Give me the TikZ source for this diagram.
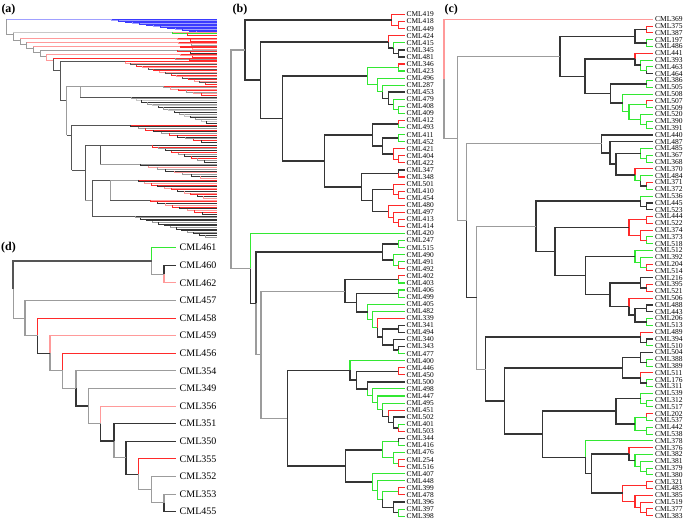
\documentclass[tikz,border=0pt]{standalone}
\usepackage{fontspec}
\setmainfont{Liberation Serif}
\usetikzlibrary{calc}
\definecolor{cblk}{HTML}{353535}
\definecolor{cgry}{HTML}{9C9C9C}
\definecolor{cgrn}{HTML}{33E833}
\definecolor{crd}{HTML}{FF2A2A}
\definecolor{clrd}{HTML}{FF9A9A}
\definecolor{cblu}{HTML}{3A3AFF}
\definecolor{clbl}{HTML}{A0A0FF}
\definecolor{clgy}{HTML}{C8C8C8}
\definecolor{cdk}{HTML}{555555}
\tikzset{
 br/.style={line width=1.1pt},
 blk/.style={draw=cblk,line width=1.5pt},
 gry/.style={br,draw=cgry},
 grn/.style={br,draw=cgrn},
 rd/.style={br,draw=crd},
 lrd/.style={br,draw=clrd},
 dthick/.style={draw=cdk,line width=1.8pt},
 bleaf/.style={anchor=west,inner xsep=1.5pt,inner ysep=0pt,font=\fontsize{7.4}{7.4}\selectfont,text=black},
 cleaf/.style={anchor=west,inner xsep=2pt,inner ysep=0pt,font=\fontsize{7.5}{7.5}\selectfont,text=black},
 dleaf/.style={anchor=west,inner xsep=3.5pt,inner ysep=0pt,font=\fontsize{10}{10}\selectfont,text=black},
 plab/.style={font=\fontsize{12}{12}\bfseries\selectfont,inner sep=0pt},
 aln/.style={line width=0.75pt},
}
\newcommand\blf[2]{\node[bleaf] (b#1) at (405,{-(14.5+(#2-1)*7.065)}) {CML#1};}
\newcommand\clf[2]{\node[cleaf] (c#1) at (653,{-(19.3+(#2-1)*6.8)}) {CML#1};}
\newcommand\dlf[2]{\node[dleaf] (d#1) at (176,{-(247.7+(#2-1)*17.6)}) {CML#1};}
\newcommand\ndx[6]{\path let \p1=(#3), \p2=(#5) in (#2,{0.5*(\y1+\y2)}) coordinate (#1);
 \draw[#4] (#1) |- (#3); \draw[#6] (#1) |- (#5);}
\def\atip{217}
\newcommand\afan[7]{%
 \draw[aln,draw=#5] (#1,-#2) -- (\atip,-#2);
 \pgfmathtruncatemacro\nm{#4-1}%
 \foreach \k in {1,...,\nm}{%
   \pgfmathsetmacro\ua{#1+(\k-1)*(\atip-#1)/#4}%
   \pgfmathsetmacro\ya{#2+(\k-1)*(#3-#2)/(#4-1)}%
   \pgfmathsetmacro\yb{#2+\k*(#3-#2)/(#4-1)}%
   \pgfmathtruncatemacro\mm{mod(\k,3)}%
   \ifcase\mm\relax\def\cc{#5}\or\def\cc{#6}\else\def\cc{#7}\fi
   \draw[aln,draw=\cc] (\ua,-\ya) |- (\atip,-\yb);
 }}
\begin{document}
\begin{tikzpicture}[x=1pt,y=1pt]
\useasboundingbox (0,0) rectangle (685,-521);
% panel labels
\node[plab] (pa) at (8.5,-10) {(a)};
\node[plab] (pb) at (240,-10) {(b)};
\node[plab] (pc) at (451.3,-10) {(c)};
\node[plab] (pd) at (8.5,-248) {(d)};
% ================= panel (a) =================
\draw[aln,draw=cgry] (6.7,-19) |- (13.3,-34);
\draw[aln,draw=clbl] (6.7,-19) -- (111.7,-19);
\afan{111.7}{19}{33}{15}{cblu}{clbl}{cblu}
\draw[aln,draw=cgry] (13.3,-32) |- (20,-40);
\draw[aln,draw=cgry] (20,-38) |- (26.7,-44.5);
\draw[aln,draw=cgry] (26.7,-42.5) |- (33.3,-48.5);
\draw[aln,draw=cgry] (33.3,-46.5) |- (40,-52.5);
\draw[aln,draw=cgry] (40,-50.5) |- (46.7,-56.5);
\draw[aln,draw=clrd] (46.7,-54.5) |- (53.3,-60.3);
\draw[aln,draw=cdk] (53.3,-58.3) |- (60,-70);
\draw[aln,draw=clgy] (13.3,-32) -- (172,-32);
\afan{172}{32}{35}{3}{clrd}{cgrn}{crd}
\draw[aln,draw=clrd] (20,-38) -- (177,-38);
\afan{177}{38}{41}{3}{crd}{clrd}{crd}
\draw[aln,draw=clrd] (26.7,-42.5) -- (178,-42.5);
\afan{178}{42.5}{45}{3}{crd}{clrd}{cgry}
\draw[aln,draw=clrd] (33.3,-46.5) -- (180,-46.5);
\afan{180}{46.5}{49}{3}{crd}{crd}{clrd}
\draw[aln,draw=cgry] (40,-50.5) -- (177,-50.5);
\afan{177}{50.5}{53}{3}{cgry}{crd}{cblk}
\draw[aln,draw=clrd] (46.7,-54.5) -- (180,-54.5);
\afan{180}{54.5}{57}{3}{crd}{clrd}{crd}
\draw[aln,draw=crd] (53.3,-58.3) -- (175,-58.3);
\afan{175}{58.3}{60.5}{3}{crd}{cgry}{crd}
% spine
\draw[aln,draw=cdk] (60,-100) |- (125,-61.7);
\draw[aln,draw=cdk] (60,-100) -- (66.7,-100);
\draw[aln,draw=cgry] (66.7,-135) |- (80,-86);
\draw[aln,draw=cdk] (66.7,-135) -- (71.7,-135);
\draw[aln,draw=cgry] (80,-97) |- (163,-86);
\draw[aln,draw=cdk] (80,-97) -- (131,-97);
\draw[aln,draw=cdk] (71.7,-170) |- (130,-125);
\draw[aln,draw=cdk] (71.7,-170) -- (85,-170);
\draw[aln,draw=cdk] (85,-200) |- (100,-145);
\draw[aln,draw=cgry] (85,-200) -- (92,-200);
\draw[aln,draw=cdk] (100,-164) |- (152,-145);
\draw[aln,draw=cgry] (100,-164) -- (140,-164);
\draw[aln,draw=cdk] (92,-216) |- (110,-180);
\draw[aln,draw=cdk] (92,-216) -- (135,-216);
\draw[aln,draw=cgry] (110,-200) |- (138,-180);
\draw[aln,draw=cdk] (110,-200) -- (150,-200);
\afan{125}{61.7}{84}{16}{crd}{clrd}{cdk}
\afan{163}{86}{95}{7}{crd}{cgry}{clrd}
\afan{131}{97}{123}{16}{cblk}{cgry}{clgy}
\afan{130}{125}{142}{11}{crd}{cblk}{cgry}
\afan{152}{145}{162}{10}{cblk}{crd}{cgry}
\afan{140}{164}{178}{9}{cgry}{cblk}{clrd}
\afan{138}{180}{198}{12}{crd}{cblk}{clrd}
\afan{150}{200}{214}{9}{clrd}{crd}{cblk}
\afan{135}{216}{237}{14}{cblk}{cgry}{cblk}
% ================= panel (b) =================
\blf{419}{1}\blf{418}{2}\blf{449}{3}\blf{424}{4}\blf{415}{5}\blf{345}{6}\blf{481}{7}\blf{346}{8}\blf{423}{9}\blf{496}{10}\blf{287}{11}\blf{453}{12}\blf{479}{13}\blf{408}{14}\blf{409}{15}\blf{412}{16}\blf{493}{17}\blf{411}{18}\blf{452}{19}\blf{421}{20}\blf{404}{21}\blf{422}{22}\blf{347}{23}\blf{348}{24}\blf{501}{25}\blf{410}{26}\blf{454}{27}\blf{480}{28}\blf{497}{29}\blf{413}{30}\blf{414}{31}\blf{420}{32}\blf{247}{33}\blf{515}{34}\blf{490}{35}\blf{491}{36}\blf{492}{37}\blf{402}{38}\blf{403}{39}\blf{406}{40}\blf{499}{41}\blf{405}{42}\blf{482}{43}\blf{339}{44}\blf{341}{45}\blf{494}{46}\blf{340}{47}\blf{343}{48}\blf{477}{49}\blf{400}{50}\blf{446}{51}\blf{450}{52}\blf{500}{53}\blf{498}{54}\blf{447}{55}\blf{495}{56}\blf{451}{57}\blf{502}{58}\blf{401}{59}\blf{503}{60}\blf{344}{61}\blf{416}{62}\blf{476}{63}\blf{254}{64}\blf{516}{65}\blf{407}{66}\blf{448}{67}\blf{399}{68}\blf{478}{69}\blf{396}{70}\blf{397}{71}\blf{398}{72}
\ndx{bn1}{398.3}{b418}{rd}{b449}{rd}
\ndx{bn2}{391.7}{b419}{rd}{bn1}{rd}
\ndx{bn3}{398.3}{b345}{blk}{b481}{blk}
\ndx{bn4}{393.3}{b415}{grn}{bn3}{blk}
\ndx{bn5}{388.3}{b424}{rd}{bn4}{blk}
\ndx{bn6}{398.3}{b346}{rd}{b423}{grn}
\ndx{bn7}{398.3}{b408}{grn}{b409}{grn}
\ndx{bn8}{393.3}{b479}{grn}{bn7}{grn}
\ndx{bn9}{388.3}{b453}{blk}{bn8}{blk}
\ndx{bn10}{382.3}{b287}{grn}{bn9}{blk}
\ndx{bn11}{377.3}{b496}{grn}{bn10}{grn}
\ndx{bn12}{367.3}{bn6}{grn}{bn11}{grn}
\ndx{bn13}{398.3}{b412}{rd}{b493}{grn}
\ndx{bn14}{398.3}{b411}{grn}{b452}{grn}
\ndx{bn15}{398.3}{b404}{rd}{b422}{rd}
\ndx{bn16}{393.3}{b421}{rd}{bn15}{rd}
\ndx{bn17}{382.3}{bn14}{blk}{bn16}{blk}
\ndx{bn18}{372.3}{bn13}{blk}{bn17}{blk}
\ndx{bn19}{398.3}{b347}{blk}{b348}{rd}
\ndx{bn20}{398.3}{b410}{rd}{b454}{rd}
\ndx{bn21}{393.3}{b501}{rd}{bn20}{rd}
\ndx{bn22}{398.3}{b413}{rd}{b414}{rd}
\ndx{bn23}{393.3}{b497}{rd}{bn22}{rd}
\ndx{bn24}{388.3}{b480}{rd}{bn23}{rd}
\ndx{bn25}{372.3}{bn21}{blk}{bn24}{blk}
\ndx{bn26}{361.7}{bn19}{blk}{bn25}{blk}
\ndx{bn27}{324.3}{bn18}{blk}{bn26}{blk}
\ndx{bn28}{282.3}{bn12}{blk}{bn27}{blk}
\ndx{bn29}{260.7}{bn5}{blk}{bn28}{blk}
\ndx{bn30}{245}{bn2}{blk}{bn29}{blk}
\ndx{bn31}{398.3}{b247}{grn}{b515}{grn}
\ndx{bn32}{398.3}{b491}{grn}{b492}{rd}
\ndx{bn33}{393.3}{b490}{grn}{bn32}{grn}
\ndx{bn34}{382.3}{bn31}{blk}{bn33}{blk}
\ndx{bn35}{398.3}{b402}{rd}{b403}{grn}
\ndx{bn36}{398.3}{b406}{grn}{b499}{grn}
\ndx{bn37}{398.3}{b341}{blk}{b494}{blk}
\ndx{bn38}{398.3}{b343}{blk}{b477}{grn}
\ndx{bn39}{393.3}{b340}{blk}{bn38}{blk}
\ndx{bn40}{382.3}{bn37}{blk}{bn39}{blk}
\ndx{bn41}{377.3}{b339}{rd}{bn40}{blk}
\ndx{bn42}{372.3}{b482}{grn}{bn41}{grn}
\ndx{bn43}{367.7}{b405}{grn}{bn42}{grn}
\ndx{bn44}{356.7}{bn36}{blk}{bn43}{blk}
\ndx{bn45}{345}{bn35}{blk}{bn44}{blk}
\ndx{bn46}{398.3}{b446}{rd}{b450}{rd}
\ndx{bn47}{398.3}{b401}{grn}{b503}{rd}
\ndx{bn48}{393.3}{b502}{blk}{bn47}{blk}
\ndx{bn49}{388.3}{b451}{rd}{bn48}{blk}
\ndx{bn50}{382.3}{b495}{grn}{bn49}{blk}
\ndx{bn51}{377.3}{b447}{grn}{bn50}{grn}
\ndx{bn52}{372.3}{b498}{grn}{bn51}{grn}
\ndx{bn53}{367.7}{b500}{blk}{bn52}{grn}
\ndx{bn54}{356.7}{bn46}{blk}{bn53}{blk}
\ndx{bn55}{350}{b400}{grn}{bn54}{blk}
\ndx{bn56}{398.3}{b344}{blk}{b416}{grn}
\ndx{bn57}{398.3}{b254}{rd}{b516}{rd}
\ndx{bn58}{393.3}{b476}{grn}{bn57}{grn}
\ndx{bn59}{382.3}{bn56}{grn}{bn58}{grn}
\ndx{bn60}{398.3}{b399}{rd}{b478}{rd}
\ndx{bn61}{398.3}{b397}{grn}{b398}{grn}
\ndx{bn62}{393.3}{b396}{blk}{bn61}{blk}
\ndx{bn63}{382.3}{bn60}{grn}{bn62}{blk}
\ndx{bn64}{377.3}{b448}{grn}{bn63}{grn}
\ndx{bn65}{372.3}{b407}{grn}{bn64}{grn}
\ndx{bn66}{345.7}{bn59}{blk}{bn65}{blk}
\ndx{bn67}{287.3}{bn55}{blk}{bn66}{blk}
\ndx{bn68}{261}{bn45}{gry}{bn67}{gry}
\ndx{bn69}{256}{bn34}{blk}{bn68}{gry}
\ndx{bn70}{250.7}{b420}{grn}{bn69}{blk}
\ndx{bn71}{231}{bn30}{gry}{bn70}{gry}
% ================= panel (c) =================
\clf{369}{1}\clf{375}{2}\clf{387}{3}\clf{197}{4}\clf{486}{5}\clf{441}{6}\clf{393}{7}\clf{463}{8}\clf{464}{9}\clf{386}{10}\clf{505}{11}\clf{508}{12}\clf{507}{13}\clf{509}{14}\clf{520}{15}\clf{390}{16}\clf{391}{17}\clf{440}{18}\clf{487}{19}\clf{485}{20}\clf{367}{21}\clf{368}{22}\clf{370}{23}\clf{484}{24}\clf{371}{25}\clf{372}{26}\clf{536}{27}\clf{445}{28}\clf{523}{29}\clf{444}{30}\clf{522}{31}\clf{374}{32}\clf{373}{33}\clf{518}{34}\clf{512}{35}\clf{392}{36}\clf{204}{37}\clf{514}{38}\clf{216}{39}\clf{395}{40}\clf{521}{41}\clf{506}{42}\clf{488}{43}\clf{443}{44}\clf{206}{45}\clf{513}{46}\clf{489}{47}\clf{394}{48}\clf{510}{49}\clf{504}{50}\clf{388}{51}\clf{389}{52}\clf{511}{53}\clf{176}{54}\clf{311}{55}\clf{539}{56}\clf{312}{57}\clf{517}{58}\clf{202}{59}\clf{537}{60}\clf{442}{61}\clf{538}{62}\clf{378}{63}\clf{376}{64}\clf{382}{65}\clf{381}{66}\clf{379}{67}\clf{380}{68}\clf{321}{69}\clf{483}{70}\clf{385}{71}\clf{519}{72}\clf{377}{73}\clf{383}{74}
\ndx{cn1}{646.7}{c375}{rd}{c387}{rd}
\ndx{cn2}{646.7}{c197}{grn}{c486}{grn}
\ndx{cn3}{635}{cn1}{blk}{cn2}{blk}
\ndx{cn4}{646.7}{c463}{grn}{c464}{blk}
\ndx{cn5}{640.7}{c393}{grn}{cn4}{grn}
\ndx{cn6}{635}{c441}{rd}{cn5}{blk}
\ndx{cn7}{646.7}{c386}{grn}{c505}{grn}
\ndx{cn8}{646.7}{c390}{grn}{c391}{grn}
\ndx{cn9}{640.7}{c520}{grn}{cn8}{grn}
\ndx{cn10}{646.7}{c507}{rd}{c509}{grn}
\ndx{cn11}{629}{cn10}{grn}{cn9}{grn}
\ndx{cn12}{622.7}{c508}{grn}{cn11}{grn}
\ndx{cn13}{610.7}{cn7}{blk}{cn12}{blk}
\ndx{cn14}{585}{cn6}{blk}{cn13}{blk}
\ndx{cn15}{560}{cn3}{blk}{cn14}{blk}
\ndx{cn16}{646.7}{c367}{grn}{c368}{grn}
\ndx{cn17}{640.7}{c485}{grn}{cn16}{grn}
\ndx{cn18}{646.7}{c371}{rd}{c372}{grn}
\ndx{cn19}{640.7}{c484}{grn}{cn18}{blk}
\ndx{cn20}{635}{c370}{rd}{cn19}{grn}
\ndx{cn21}{616}{cn17}{blk}{cn20}{blk}
\ndx{cn22}{610}{c487}{blk}{cn21}{blk}
\ndx{cn23}{601.7}{c440}{blk}{cn22}{blk}
\ndx{cn24}{646.7}{c445}{blk}{c523}{blk}
\ndx{cn25}{640.7}{c536}{grn}{cn24}{blk}
\ndx{cn26}{646.7}{c444}{rd}{c522}{rd}
\ndx{cn27}{646.7}{c373}{grn}{c518}{grn}
\ndx{cn28}{640.7}{c374}{rd}{cn27}{rd}
\ndx{cn29}{629}{cn26}{rd}{cn28}{rd}
\ndx{cn30}{646.7}{c204}{rd}{c514}{rd}
\ndx{cn31}{640.7}{c392}{grn}{cn30}{grn}
\ndx{cn32}{635}{c512}{grn}{cn31}{grn}
\ndx{cn33}{646.7}{c395}{rd}{c521}{rd}
\ndx{cn34}{640.7}{c216}{blk}{cn33}{blk}
\ndx{cn35}{646.7}{c488}{blk}{c443}{blk}
\ndx{cn36}{646.7}{c206}{grn}{c513}{grn}
\ndx{cn37}{635}{cn35}{blk}{cn36}{blk}
\ndx{cn38}{629}{c506}{rd}{cn37}{blk}
\ndx{cn39}{610}{cn34}{blk}{cn38}{blk}
\ndx{cn40}{585.7}{cn32}{blk}{cn39}{blk}
\ndx{cn41}{555}{cn29}{blk}{cn40}{blk}
\ndx{cn42}{536}{cn25}{blk}{cn41}{blk}
\ndx{cn43}{646.7}{c394}{blk}{c510}{grn}
\ndx{cn44}{640.7}{c489}{rd}{cn43}{blk}
\ndx{cn45}{646.7}{c388}{grn}{c389}{grn}
\ndx{cn46}{640.7}{c504}{blk}{cn45}{blk}
\ndx{cn47}{646.7}{c176}{grn}{c311}{grn}
\ndx{cn48}{640.7}{c511}{rd}{cn47}{blk}
\ndx{cn49}{622.7}{cn46}{blk}{cn48}{blk}
\ndx{cn50}{646.7}{c312}{grn}{c517}{grn}
\ndx{cn51}{640.7}{c539}{grn}{cn50}{grn}
\ndx{cn52}{646.7}{c202}{rd}{c537}{grn}
\ndx{cn53}{646.7}{c442}{grn}{c538}{grn}
\ndx{cn54}{635}{cn52}{grn}{cn53}{grn}
\ndx{cn55}{616}{cn51}{blk}{cn54}{blk}
\ndx{cn56}{646.7}{c379}{grn}{c380}{grn}
\ndx{cn57}{640.7}{c381}{grn}{cn56}{grn}
\ndx{cn58}{635}{c382}{grn}{cn57}{grn}
\ndx{cn59}{629}{c376}{rd}{cn58}{blk}
\ndx{cn60}{646.7}{c321}{rd}{c483}{rd}
\ndx{cn61}{646.7}{c377}{rd}{c383}{rd}
\ndx{cn62}{640.7}{c519}{rd}{cn61}{rd}
\ndx{cn63}{635}{c385}{rd}{cn62}{rd}
\ndx{cn64}{622.7}{cn60}{rd}{cn63}{rd}
\ndx{cn65}{591.7}{cn59}{blk}{cn64}{blk}
\ndx{cn66}{585.7}{c378}{grn}{cn65}{blk}
\ndx{cn67}{542.3}{cn55}{blk}{cn66}{blk}
\ndx{cn68}{504.3}{cn49}{blk}{cn67}{blk}
\ndx{cn69}{485.7}{cn44}{blk}{cn68}{blk}
\ndx{cn70}{476.7}{cn42}{gry}{cn69}{gry}
\ndx{cn71}{466.7}{cn23}{gry}{cn70}{blk}
\ndx{cn72}{457.3}{cn15}{gry}{cn71}{gry}
\ndx{cn73}{444}{c369}{lrd}{cn72}{gry}
% ================= panel (d) =================
\dlf{461}{1}\dlf{460}{2}\dlf{462}{3}\dlf{457}{4}\dlf{458}{5}\dlf{459}{6}\dlf{456}{7}\dlf{354}{8}\dlf{349}{9}\dlf{356}{10}\dlf{351}{11}\dlf{350}{12}\dlf{355}{13}\dlf{352}{14}\dlf{353}{15}\dlf{455}{16}
\ndx{dn1}{164}{d460}{blk}{d462}{lrd}
\ndx{dn2}{151.7}{d461}{grn}{dn1}{gry}
\ndx{dn3}{164}{d353}{gry}{d455}{blk}
\ndx{dn4}{151.7}{d352}{gry}{dn3}{gry}
\ndx{dn5}{138.3}{d355}{rd}{dn4}{gry}
\ndx{dn6}{126}{d350}{blk}{dn5}{blk}
\ndx{dn7}{114}{d351}{blk}{dn6}{gry}
\ndx{dn8}{100.7}{d356}{lrd}{dn7}{blk}
\ndx{dn9}{88.3}{d349}{gry}{dn8}{gry}
\ndx{dn10}{76}{d354}{gry}{dn9}{blk}
\ndx{dn11}{62.7}{d456}{rd}{dn10}{gry}
\ndx{dn12}{50}{d459}{lrd}{dn11}{gry}
\ndx{dn13}{37.7}{d458}{rd}{dn12}{blk}
\ndx{dn14}{25}{d457}{gry}{dn13}{gry}
\ndx{dn15}{13.3}{dn2}{dthick}{dn14}{gry}
\end{tikzpicture}
\end{document}
